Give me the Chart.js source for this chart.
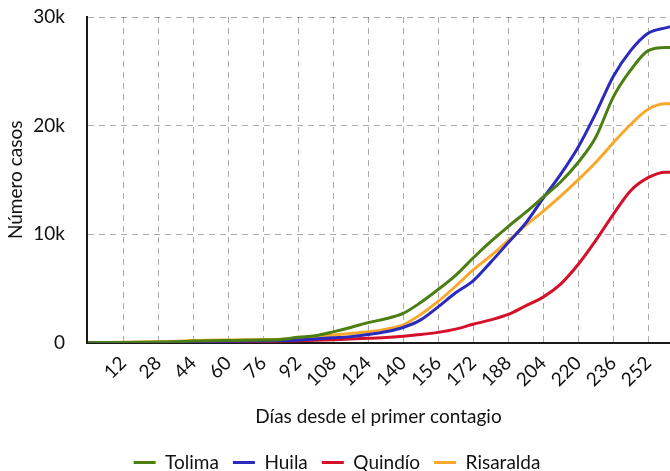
<!DOCTYPE html>
<html>
<head>
<meta charset="utf-8">
<script src="https://cdn.jsdelivr.net/npm/chart.js@4/dist/chart.umd.min.js"></script>
<style>
  html, body { margin: 0; padding: 0; background: #ffffff; }
  #wrap { width: 670px; height: 471px; }
</style>
</head>
<body>
<div id="wrap"><canvas id="myChart"></canvas></div>
<script>
// Casos acumulados por departamento

const dias = [-4, 4, 12, 20, 28, 36, 44, 52, 60, 68, 76, 84, 92, 100, 108, 116, 124, 132, 140,
  148, 156, 164, 172, 180, 188, 196, 204, 212, 220, 228, 236, 244, 252, 260, 262];

const tolima = [0, 10, 20, 40, 60, 80, 150, 180, 200, 220, 250, 300, 500, 650, 1000, 1400, 1850, 2200, 2700,
  3700, 4900, 6200, 7800, 9300, 10700, 12000, 13400, 14800, 16600, 18900, 22600, 25100, 26900, 27200, 27200];

const huila = [0, 5, 10, 20, 30, 50, 80, 100, 120, 140, 160, 200, 250, 350, 450, 560, 750, 1000, 1400,
  2100, 3300, 4600, 5700, 7400, 9200, 11000, 13300, 15500, 18000, 21100, 24500, 26900, 28500, 29000, 29100];

const quindio = [0, 5, 10, 15, 20, 30, 50, 60, 70, 80, 100, 130, 170, 220, 280, 330, 400, 480, 600,
  750, 950, 1250, 1700, 2100, 2600, 3400, 4200, 5400, 7200, 9400, 11800, 14000, 15200, 15700, 15700];

const risaralda = [0, 20, 40, 60, 80, 120, 200, 230, 250, 270, 290, 320, 400, 550, 700, 850, 1000, 1250, 1650,
  2600, 3800, 5200, 6700, 8000, 9400, 10800, 12100, 13500, 15000, 16600, 18400, 20100, 21500, 22000, 22000];

const ticksX = [12, 28, 44, 60, 76, 92, 108, 124, 140, 156, 172, 188, 204, 220, 236, 252];
const ticksY = [0, 10000, 20000, 30000];

const colores = ['#4b7f12', '#2a2abf', '#d4102a', '#f8a82a'];

const puntos = (arr) => arr.map((v, i) => ({ x: dias[i], y: v }));

const serie = (nombre, arr, color) => ({
  label: nombre,
  data: puntos(arr),
  borderColor: color,
  backgroundColor: color,
  borderWidth: 3,
  pointRadius: 0,
  pointStyle: 'line',
  pointBorderColor: color,
  pointBorderWidth: 3
});

Chart.defaults.font.family = 'Lato';
Chart.defaults.font.size = 19;
Chart.defaults.color = '#111111';

const ctx = document.getElementById('myChart');

new Chart(ctx, {
  type: 'line',
  data: {
    datasets: [
      serie('Tolima', tolima, colores[0]),
      serie('Huila', huila, colores[1]),
      serie('Quindío', quindio, colores[2]),
      serie('Risaralda', risaralda, colores[3])
    ]
  },
  options: {
    responsive: true,
    maintainAspectRatio: false,
    animation: false,
    layout: { padding: { top: 0, right: 0, left: 4, bottom: -11 } },
    elements: {
      line: { cubicInterpolationMode: 'monotone' }
    },
    plugins: {
      tooltip: { enabled: false },
      legend: {
        position: 'bottom',
        labels: {
          usePointStyle: true,
          pointStyle: 'line',
          pointStyleWidth: 22,
          padding: 14,
          font: { size: 19 }
        }
      }
    },
    scales: {
      x: {
        type: 'linear',
        min: -4.5,
        max: 262,
        afterBuildTicks: (axis) => { axis.ticks = ticksX.map(v => ({ value: v })); },
        afterFit: (scale) => { scale.paddingLeft = 0; scale.paddingRight = 0; },
        ticks: { minRotation: 45, maxRotation: 45, padding: 9, font: { size: 19 } },
        grid: { color: 'rgba(0,0,0,0.33)', drawTicks: false },
        border: { color: '#1a1a1a', width: 2, dash: [6, 5] },
        title: { display: true, text: 'Días desde el primer contagio', font: { size: 19 }, padding: { top: 5, bottom: 11 } }
      },
      y: {
        min: 0,
        max: 30000,
        afterBuildTicks: (axis) => { axis.ticks = ticksY.map(v => ({ value: v })); },
        afterFit: (scale) => { scale.width = 83; scale.paddingTop = 17; scale.paddingBottom = 0; },
        ticks: {
          padding: 22,
          font: { size: 19 },
          callback: (v) => v === 0 ? '0' : (v / 1000) + 'k'
        },
        grid: { color: 'rgba(0,0,0,0.33)', drawTicks: false },
        border: { color: '#1a1a1a', width: 2, dash: [6, 5] },
        title: { display: true, text: 'Número casos', font: { size: 19 }, padding: { top: 0, bottom: 6 } }
      }
    }
  }
});
</script>
</body>
</html>
